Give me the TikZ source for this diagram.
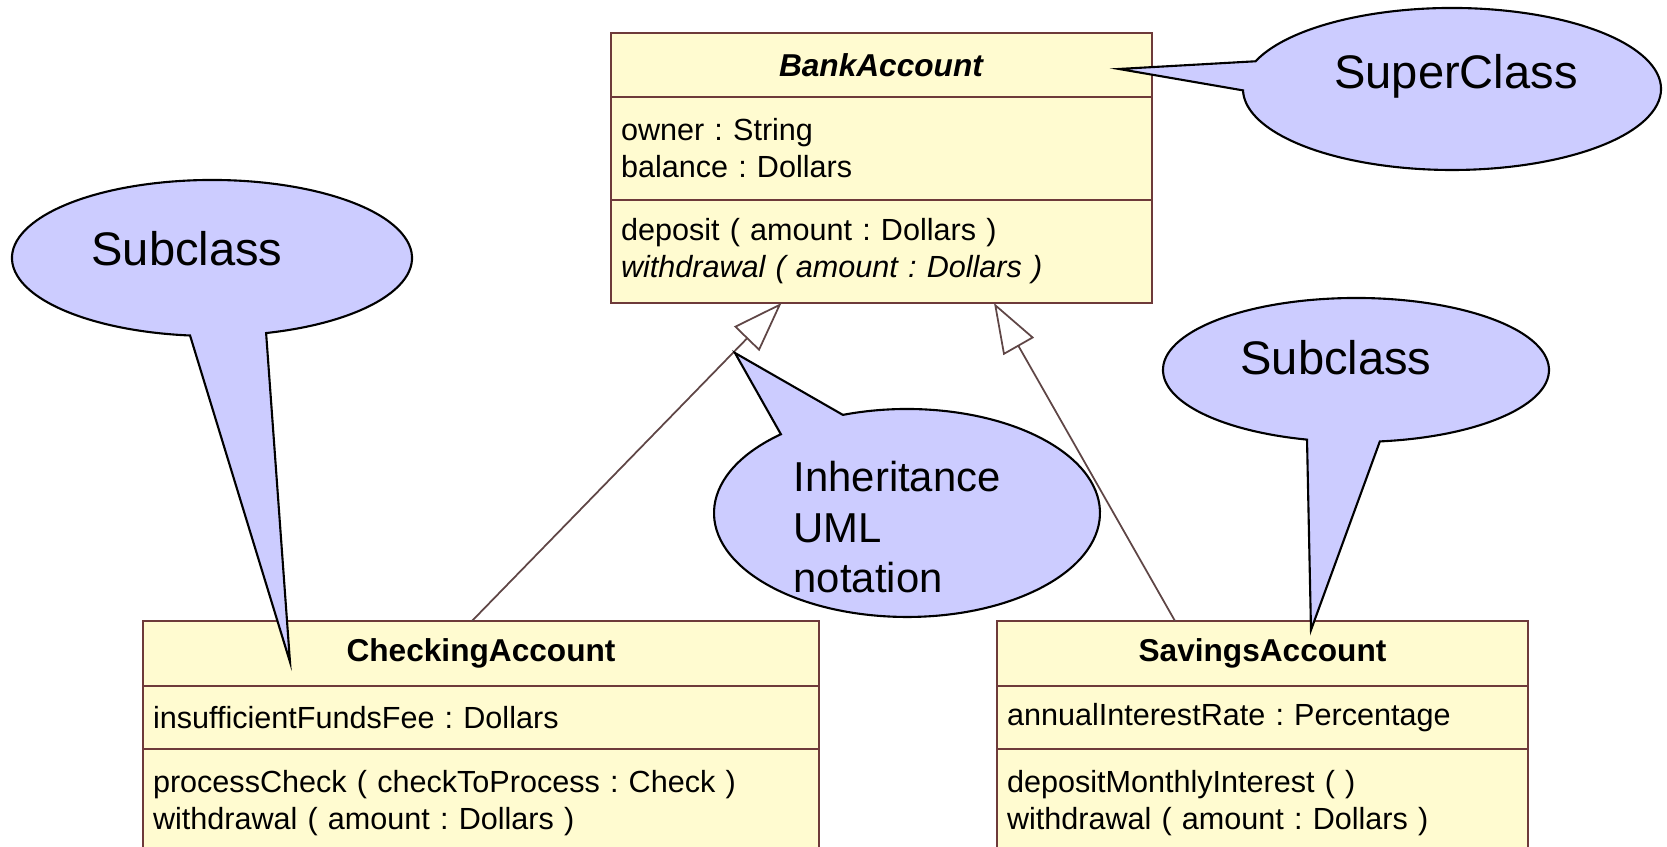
\documentclass[tikz,border=0pt]{standalone}
\usepackage{fontspec}
\setmainfont{Liberation Sans}
\usetikzlibrary{positioning,arrows.meta}
\frenchspacing

\definecolor{umlfill}{RGB}{255,251,208}
\definecolor{umlline}{RGB}{110,58,58}
\definecolor{genline}{RGB}{95,70,70}
\definecolor{talkfill}{RGB}{204,204,255}

\begin{document}
\begin{tikzpicture}[
    head/.style={draw=umlline, fill=umlfill, line width=0.7pt, outer sep=0pt,
        inner xsep=0.1cm, inner ysep=0pt, align=center,
        font=\fontsize{9}{11}\selectfont\bfseries},
    part/.style={draw=umlline, fill=umlfill, line width=0.7pt, outer sep=0pt,
        inner xsep=0.1cm, inner ysep=0pt, align=left,
        font=\fontsize{8.7}{10.5}\selectfont},
    talk/.style={draw=black, fill=talkfill, line width=0.6pt},
    isa/.style={draw=genline, line width=0.5pt,
        -{Triangle[open,length=0.5cm,width=0.35cm]}},
    ]
    \useasboundingbox (0,0) rectangle (16.67,8.47);
    \clip (0,0) rectangle (16.67,8.47);

    % super class
    \node[head, text width=5.21cm, minimum height=0.64cm] (bank)
        at (8.815,7.82) {\textit{BankAccount}};
    \node[part, text width=5.21cm, minimum height=1.03cm, below=0pt of bank] (bankattr)
        {owner : String\\balance : Dollars};
    \node[part, text width=5.21cm, minimum height=1.03cm, below=0pt of bankattr] (bankops)
        {deposit ( amount : Dollars )\\\textit{withdrawal ( amount : Dollars )}};

    % sub classes
    \node[head, text width=6.56cm, minimum height=0.65cm] (check)
        at (4.81,1.935) {CheckingAccount};
    \node[part, text width=6.56cm, minimum height=0.63cm, below=0pt of check] (checkattr)
        {insufficientFundsFee : Dollars};
    \node[part, text width=6.56cm, minimum height=1.08cm, below=0pt of checkattr] (checkops)
        {processCheck ( checkToProcess : Check )\\withdrawal ( amount : Dollars )};

    \node[head, text width=5.11cm, minimum height=0.65cm] (save)
        at (12.625,1.935) {SavingsAccount};
    \node[part, text width=5.11cm, minimum height=0.63cm, below=0pt of save] (saveattr)
        {annualInterestRate : Percentage};
    \node[part, text width=5.11cm, minimum height=1.08cm, below=0pt of saveattr] (saveops)
        {depositMonthlyInterest ( )\\withdrawal ( amount : Dollars )};

    % generalisation
    \draw[isa] ([xshift=-0.09cm]check.north) -- ([xshift=-1.0cm]bankops.south);
    \draw[isa] ([xshift=-0.875cm]save.north) -- ([xshift=1.125cm]bankops.south);

    % call-outs
    \coordinate (sc) at (14.52,7.58);
    \coordinate (sctip) at (11.19,7.78);
    \filldraw[talk] (sctip) -- ([shift={(160:2.09 and 0.81)}]sc)
        arc[start angle=160, end angle=-179, x radius=2.09, y radius=0.81] -- cycle;
    \node[font=\fontsize{13.4}{16}\selectfont, anchor=base] (sctxt)
        at (14.56,7.58) {SuperClass};

    \coordinate (lc) at (2.12,5.89);
    \coordinate (lctip) at (2.90,1.85);
    \filldraw[talk] (lctip) -- ([shift={(285.7:2.0 and 0.78)}]lc)
        arc[start angle=285.7, end angle=623.7, x radius=2.0, y radius=0.78] -- cycle;
    \node[font=\fontsize{13.4}{16}\selectfont, anchor=base] (lctxt)
        at (1.87,5.81) {Subclass};

    \coordinate (rc) at (13.56,4.77);
    \coordinate (rctip) at (13.11,2.17);
    \filldraw[talk] (rctip) -- ([shift={(277.1:1.93 and 0.72)}]rc)
        arc[start angle=277.1, end angle=615.3, x radius=1.93, y radius=0.72] -- cycle;
    \node[font=\fontsize{13.4}{16}\selectfont, anchor=base] (rctxt)
        at (13.36,4.72) {Subclass};

    \coordinate (ic) at (9.07,3.34);
    \coordinate (ictip) at (7.35,4.94);
    \filldraw[talk] (ictip) -- ([shift={(130.8:1.93 and 1.04)}]ic)
        arc[start angle=130.8, end angle=469.4, x radius=1.93, y radius=1.04] -- cycle;
    \node[font=\fontsize{11.9}{14.3}\selectfont, align=left, inner sep=0pt,
        anchor=north west] (ictxt)
        at (7.93,3.86) {Inheritance\\UML\\notation};
\end{tikzpicture}
\end{document}
